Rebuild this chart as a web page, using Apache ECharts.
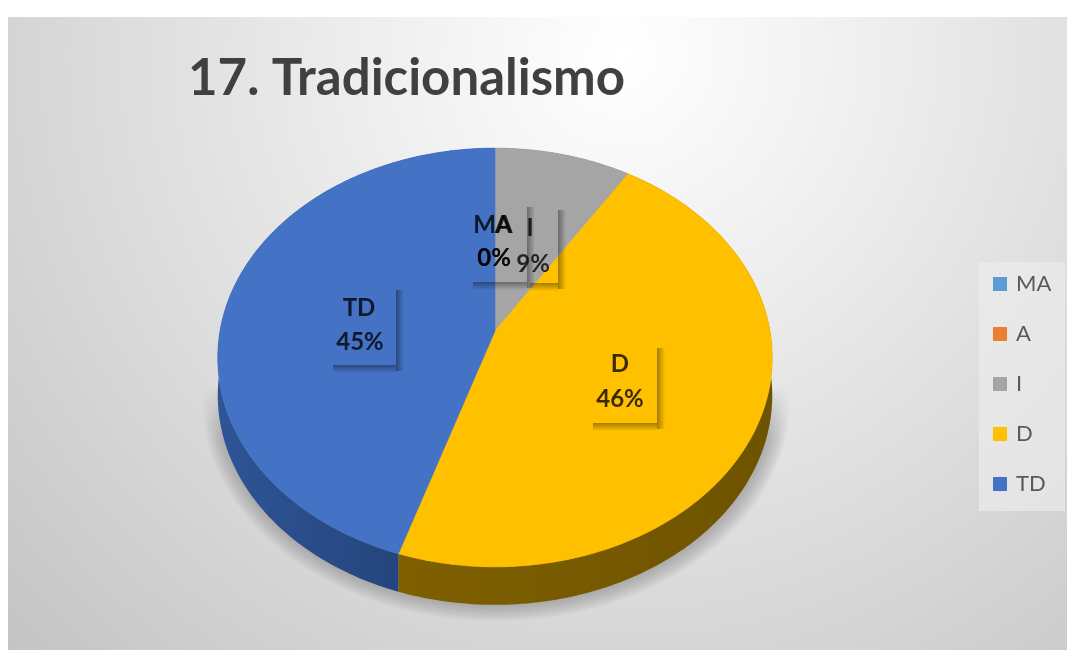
<!DOCTYPE html>
<html>
<head>
<meta charset="utf-8">
<title>17. Tradicionalismo</title>
<style>
  html, body { margin: 0; padding: 0; background: #ffffff; }
  #chart { width: 1067px; height: 650px; }
</style>
<script src="https://cdn.jsdelivr.net/npm/echarts@6/dist/echarts.min.js"></script>
</head>
<body>
<div id="chart"></div>
<script>
// Survey answers for item 17, in percent
const categories = ['MA', 'A', 'I', 'D', 'TD'];
const shares = [0, 0, 9, 46, 45];

// Slice and side-wall colours, one per category
const faceColors = ['#5b9bd5', '#ed7d31', '#a5a5a5', '#ffc000', '#4472c4'];
const wallStart = ['#2e6ca4', '#ae5a21', '#6b6b6b', '#7f6000', '#2f5597'];
const wallEnd = ['#2e6ca4', '#ae5a21', '#6b6b6b', '#6e5300', '#1f3c6e'];

// Label layout: name centre, percentage centre, shadow box [left, top, width, height]
const nameCenters = [[493, 225], [503, 225], [530, 228], [620, 364], [359, 308]];
const pctCenters = [[494, 258], [494, 258], [533, 264], [620, 399], [360, 342]];
const labelBoxes = [[470, 204, 57, 78], null, [527, 207, 31, 76], [590, 345, 67, 78], [330, 287, 66, 78]];

// Tilted disc: the hub sits above the middle of the outline because of the perspective
const hubX = 495;
const hubY = 331;
const discRadius = 275;
const depthScale = 206;
const perspective = 0.1265;
const wallDepth = 38;

function project(deg, drop) {
  const t = deg * Math.PI / 180;
  const w = 1 + perspective * Math.cos(t);
  return [
    hubX + discRadius * Math.sin(t) / w,
    hubY - depthScale * Math.cos(t) / w + (drop || 0)
  ];
}

function arcPoints(from, to, drop) {
  const pts = [];
  const steps = Math.max(2, Math.ceil(to - from));
  for (let i = 0; i <= steps; i++) {
    pts.push(project(from + (to - from) * i / steps, drop));
  }
  return pts;
}

const total = shares.reduce((a, b) => a + b, 0);

function renderSlice(params, api) {
  const idx = params.seriesIndex;
  const value = api.value(0);
  const before = shares.slice(0, idx).reduce((a, b) => a + b, 0);
  const from = before / total * 360;
  const to = (before + value) / total * 360;
  const children = [];

  if (value > 0) {
    const outer = arcPoints(from, to, 0);
    const lower = arcPoints(from, to, wallDepth).reverse();
    children.push({
      type: 'polygon',
      z2: 1,
      shape: { points: outer.concat(lower) },
      style: {
        fill: {
          type: 'linear', x: 0, y: 0, x2: 1, y2: 0,
          colorStops: [
            { offset: 0, color: wallStart[idx] },
            { offset: 1, color: wallEnd[idx] }
          ]
        }
      }
    });
    children.push({
      type: 'polygon',
      z2: 5,
      shape: { points: [[hubX, hubY]].concat(outer) },
      style: { fill: faceColors[idx], stroke: faceColors[idx], lineWidth: 0.6 }
    });
  }

  // Data label: the box itself is clear, only its soft shadow shows on the right and bottom
  const box = labelBoxes[idx];
  if (box) {
    const dark = 'rgba(0,0,0,0.36)';
    const clear = 'rgba(0,0,0,0)';
    children.push({
      type: 'rect', z2: 10,
      shape: { x: box[0] + box[2], y: box[1] + 3, width: 8, height: box[3] + 3 },
      style: { fill: { type: 'linear', x: 0, y: 0, x2: 1, y2: 0,
        colorStops: [{ offset: 0, color: dark }, { offset: 1, color: clear }] } }
    });
    children.push({
      type: 'rect', z2: 10,
      shape: { x: box[0] + 3, y: box[1] + box[3], width: box[2] - 3, height: 8 },
      style: { fill: { type: 'linear', x: 0, y: 0, x2: 0, y2: 1,
        colorStops: [{ offset: 0, color: dark }, { offset: 1, color: clear }] } }
    });
  }
  const textStyle = { fill: 'rgba(0,0,0,0.78)', font: 'bold 24px Lato', align: 'center', verticalAlign: 'middle' };
  const pct = Math.round(value / total * 100) + '%';
  children.push({
    type: 'text', z2: 20,
    style: Object.assign({ text: categories[idx], x: nameCenters[idx][0], y: nameCenters[idx][1] }, textStyle)
  });
  children.push({
    type: 'text', z2: 20,
    style: Object.assign({ text: pct, x: pctCenters[idx][0], y: pctCenters[idx][1] }, textStyle)
  });
  return { type: 'group', children: children };
}

// Cast shadow: nested translucent ellipses give a soft rim, masked out above the disc's middle
const shadowLayers = [];
const shadowSteps = 14;
for (let i = 0; i < shadowSteps; i++) {
  const grow = i / (shadowSteps - 1);
  shadowLayers.push({
    type: 'ellipse',
    z: -8,
    shape: { cx: 496, cy: 399, rx: 270 + 24 * grow, ry: 200 + 22 * grow },
    style: {
      fill: {
        type: 'linear', x: 0, y: 385, x2: 0, y2: 440, global: true,
        colorStops: [
          { offset: 0, color: 'rgba(110,110,110,0)' },
          { offset: 1, color: 'rgba(110,110,110,0.055)' }
        ]
      }
    }
  });
}

const chart = echarts.init(document.getElementById('chart'), null, { renderer: 'canvas' });

chart.setOption({
  animation: false,
  title: {
    text: '17. Tradicionalismo',
    left: 183,
    top: 48,
    textStyle: { fontFamily: 'Lato', fontWeight: 'bold', fontSize: 51, color: '#404040' }
  },
  legend: {
    orient: 'vertical',
    left: 988,
    top: 268,
    icon: 'rect',
    itemWidth: 14,
    itemHeight: 14,
    itemGap: 28,
    data: categories,
    selectedMode: false,
    textStyle: { fontFamily: 'Lato', fontSize: 22, color: '#595959', padding: [0, 0, 0, 4] }
  },
  graphic: [
    {
      type: 'rect',
      z: -10,
      shape: { x: 8, y: 17, width: 1059, height: 633 },
      style: {
        fill: {
          type: 'radial', x: 0.58, y: 0.06, r: 1.35,
          colorStops: [
            { offset: 0, color: '#ffffff' },
            { offset: 0.25, color: '#f1f1f1' },
            { offset: 0.6, color: '#dcdcdc' },
            { offset: 1, color: '#c4c4c4' }
          ]
        }
      }
    },
    {
      type: 'rect',
      z: -9,
      shape: { x: 979, y: 262, width: 86, height: 249 },
      style: { fill: 'rgba(238,238,238,0.6)' }
    }
  ].concat(shadowLayers),
  series: categories.map((name, i) => ({
    type: 'custom',
    name: name,
    coordinateSystem: 'none',
    itemStyle: { color: faceColors[i] },
    renderItem: renderSlice,
    data: [[shares[i]]]
  }))
});
</script>
</body>
</html>
